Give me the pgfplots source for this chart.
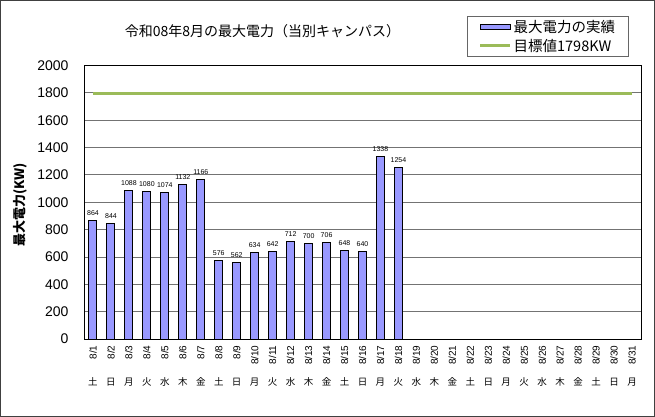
\documentclass[border=0pt]{standalone}
\usepackage{fontspec}
\setmainfont{Liberation Sans}
\newfontfamily\jp{Noto Sans CJK JP}
\usepackage{graphicx}
\usepackage{pgfplots}
\pgfplotsset{compat=1.18}
\definecolor{barfill}{RGB}{153,153,255}
\definecolor{target}{RGB}{155,187,89}
\begin{document}
\begin{tikzpicture}
\useasboundingbox (-84pt,-78pt) rectangle (571pt,339pt);
\draw[line width=1.2pt, black!75] (-83.4pt,-77.4pt) rectangle (570.4pt,338.4pt);
\begin{axis}[
  at={(0pt,0pt)}, anchor=south west,
  scale only axis, width=557pt, height=273.5pt,
  xmin=0.5, xmax=31.5, ymin=0, ymax=2000,
  axis line style={black, line width=1pt},
  ytick={0,200,...,2000},
  ymajorgrids, grid style={black!55, line width=0.8pt},
  major tick length=0pt,
  /pgf/number format/1000 sep={},
  /pgf/number format/assume math mode=true,
  yticklabel style={font=\fontsize{14}{16}\selectfont, xshift=-12pt},
  xtick={1,...,31},
  xticklabels={\rotatebox{90}{8/1},\rotatebox{90}{8/2},\rotatebox{90}{8/3},\rotatebox{90}{8/4},\rotatebox{90}{8/5},\rotatebox{90}{8/6},\rotatebox{90}{8/7},\rotatebox{90}{8/8},\rotatebox{90}{8/9},\rotatebox{90}{8/10},\rotatebox{90}{8/11},\rotatebox{90}{8/12},\rotatebox{90}{8/13},\rotatebox{90}{8/14},\rotatebox{90}{8/15},\rotatebox{90}{8/16},\rotatebox{90}{8/17},\rotatebox{90}{8/18},\rotatebox{90}{8/19},\rotatebox{90}{8/20},\rotatebox{90}{8/21},\rotatebox{90}{8/22},\rotatebox{90}{8/23},\rotatebox{90}{8/24},\rotatebox{90}{8/25},\rotatebox{90}{8/26},\rotatebox{90}{8/27},\rotatebox{90}{8/28},\rotatebox{90}{8/29},\rotatebox{90}{8/30},\rotatebox{90}{8/31}},
  xticklabel style={font=\fontsize{10}{12}\selectfont, anchor=north, yshift=-3pt},
  extra x ticks={1,...,31},
  extra x tick labels={土,日,月,火,水,木,金,土,日,月,火,水,木,金,土,日,月,火,水,木,金,土,日,月,火,水,木,金,土,日,月},
  extra x tick style={major tick length=0pt, xticklabel style={font=\jp\fontsize{9.5}{11}\selectfont, anchor=center, yshift=-40pt}},
  legend style={at={(0.688,1.181)}, anchor=north west, draw=black!60, line width=0.8pt,
    font=\jp\fontsize{14.5}{16}\selectfont, inner xsep=11pt, inner ysep=2pt, row sep=1pt},
  legend cell align=left,
  clip=false,
]
\addplot[ybar, bar width=8pt, fill=barfill, draw=black, line width=1pt,
  nodes near coords,
  nodes near coords style={font=\fontsize{7}{8}\selectfont, black, yshift=1pt},
  legend image code/.code={\draw[fill=barfill, draw=black, line width=1pt] (0pt,-2.5pt) rectangle (30pt,2.5pt);}]
coordinates {
(1,864) (2,844) (3,1088) (4,1080) (5,1074) (6,1132) (7,1166) (8,576) (9,562)
(10,634) (11,642) (12,712) (13,700) (14,706) (15,648) (16,640) (17,1338) (18,1254)
};
\addlegendentry{最大電力の実績}
\addplot[target, line width=3pt, no marks,
  legend image code/.code={\draw[target, line width=3pt] (0pt,0pt) -- (30pt,0pt);}]
coordinates {(1,1798) (31,1798)};
\addlegendentry{目標値1798KW}
\end{axis}
\node[font=\jp\fontsize{14}{16}\selectfont] at (178.5pt,308pt) {令和08年8月の最大電力（当別キャンパス）};
\node[font=\jp\bfseries\fontsize{13}{15}\selectfont, rotate=90] at (-64pt,134pt) {最大電力(KW)};
\end{tikzpicture}
\end{document}
